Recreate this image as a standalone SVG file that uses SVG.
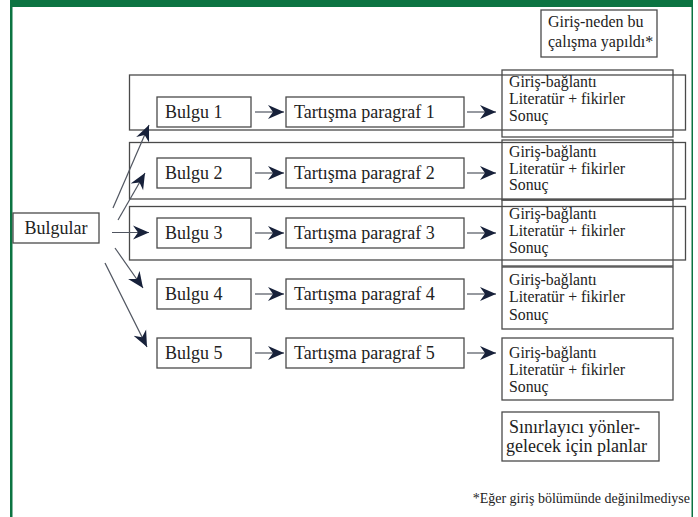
<svg xmlns="http://www.w3.org/2000/svg" width="698" height="517" viewBox="0 0 698 517">
<defs>
<marker id="ah" markerUnits="userSpaceOnUse" markerWidth="20" markerHeight="16" refX="16" refY="7.5" orient="auto">
<path d="M0,0.5 L16,7.5 L0,14.5 L5,7.5 Z" fill="#17213a"/>
</marker>
<style>
.bx{fill:#fff;stroke:#4a4a4a;stroke-width:1.3}
.ol{fill:none;stroke:#4a4a4a;stroke-width:1.3}
text{fill:#222;font-family:'Liberation Serif','Times New Roman','DejaVu Serif',serif}
.b{font-size:18px}
.s{font-size:15.8px}
.m{font-size:16px}
.l{font-size:18px}
.c line{stroke:#505560;stroke-width:1.2;marker-end:url(#ah)}
</style>
</defs>
<rect width="698" height="517" fill="#fff"/>
<rect x="10" y="0" width="683" height="7" fill="#0c7442"/>
<rect x="10" y="0" width="2.5" height="517" fill="#0c7442"/>
<rect x="691.5" y="0" width="1.5" height="517" fill="#0c7442"/>

<g id="rows">
<rect class="ol" x="129.5" y="75" width="556" height="55"/>
<rect class="ol" x="129.5" y="142.5" width="556" height="56.5"/>
<rect class="ol" x="129.5" y="206.5" width="556" height="53.5"/>
</g>

<g id="top-note">
<rect class="bx" x="541" y="10" width="116" height="47"/>
<text class="m" x="548" y="27">Giriş-neden bu</text>
<text class="m" x="548" y="47">çalışma yapıldı*</text>
</g>

<g id="bulgular">
<rect class="bx" x="13" y="213" width="86" height="30"/>
<text class="b" x="56" y="234" text-anchor="middle">Bulgular</text>
</g>

<g id="bulgu1"><rect class="bx" x="157" y="97" width="94" height="30"/><text class="b" x="165" y="118">Bulgu 1</text></g>
<g id="bulgu2"><rect class="bx" x="157" y="158" width="94" height="30"/><text class="b" x="165" y="179">Bulgu 2</text></g>
<g id="bulgu3"><rect class="bx" x="157" y="218" width="94" height="30"/><text class="b" x="165" y="239">Bulgu 3</text></g>
<g id="bulgu4"><rect class="bx" x="157" y="279" width="94" height="30"/><text class="b" x="165" y="300">Bulgu 4</text></g>
<g id="bulgu5"><rect class="bx" x="157" y="338" width="94" height="30"/><text class="b" x="165" y="359">Bulgu 5</text></g>

<g id="tartisma1"><rect class="bx" x="286" y="97" width="178" height="30"/><text class="b" x="294" y="118">Tartışma paragraf 1</text></g>
<g id="tartisma2"><rect class="bx" x="286" y="158" width="178" height="30"/><text class="b" x="294" y="179">Tartışma paragraf 2</text></g>
<g id="tartisma3"><rect class="bx" x="286" y="218" width="178" height="30"/><text class="b" x="294" y="239">Tartışma paragraf 3</text></g>
<g id="tartisma4"><rect class="bx" x="286" y="279" width="178" height="30"/><text class="b" x="294" y="300">Tartışma paragraf 4</text></g>
<g id="tartisma5"><rect class="bx" x="286" y="338" width="178" height="30"/><text class="b" x="294" y="359">Tartışma paragraf 5</text></g>

<g id="giris1"><rect class="ol" x="502" y="70" width="171" height="67"/>
<text class="s" x="509" y="87">Giriş-bağlantı</text><text class="s" x="509" y="104">Literatür + fikirler</text><text class="s" x="509" y="121">Sonuç</text></g>
<g id="giris2"><rect class="ol" x="502" y="140" width="171" height="60"/>
<text class="s" x="509" y="157">Giriş-bağlantı</text><text class="s" x="509" y="174">Literatür + fikirler</text><text class="s" x="509" y="190">Sonuç</text></g>
<g id="giris3"><rect class="ol" x="502" y="200" width="171" height="66"/>
<text class="s" x="509" y="219">Giriş-bağlantı</text><text class="s" x="509" y="236">Literatür + fikirler</text><text class="s" x="509" y="253">Sonuç</text></g>
<g id="giris4"><rect class="ol" x="502" y="267" width="171" height="62"/>
<text class="s" x="509" y="285">Giriş-bağlantı</text><text class="s" x="509" y="302">Literatür + fikirler</text><text class="s" x="509" y="320">Sonuç</text></g>
<g id="giris5"><rect class="ol" x="502" y="338" width="171" height="62"/>
<text class="s" x="509" y="358">Giriş-bağlantı</text><text class="s" x="509" y="375">Literatür + fikirler</text><text class="s" x="509" y="392">Sonuç</text></g>

<g id="limits">
<rect class="bx" x="502" y="412" width="157" height="49"/>
<text class="l" x="509" y="433">Sınırlayıcı yönler-</text>
<text class="l" x="506" y="452">gelecek için planlar</text>
</g>

<text x="690" y="503" text-anchor="end" font-size="14">*Eğer giriş bölümünde değinilmediyse</text>

<g id="connectors" class="c">
<line x1="113" y1="208" x2="149" y2="125"/>
<line x1="118" y1="220" x2="145" y2="173"/>
<line x1="112" y1="232.5" x2="149" y2="232.5"/>
<line x1="115" y1="248" x2="143" y2="288"/>
<line x1="105" y1="263" x2="147" y2="347"/>
<line x1="255" y1="112" x2="284" y2="112"/>
<line x1="255" y1="173" x2="284" y2="173"/>
<line x1="255" y1="233" x2="284" y2="233"/>
<line x1="255" y1="294" x2="284" y2="294"/>
<line x1="255" y1="353" x2="284" y2="353"/>
<line x1="467" y1="112" x2="496" y2="112"/>
<line x1="467" y1="173" x2="496" y2="173"/>
<line x1="467" y1="233" x2="496" y2="233"/>
<line x1="467" y1="294" x2="496" y2="294"/>
<line x1="467" y1="353" x2="496" y2="353"/>
</g>
</svg>
